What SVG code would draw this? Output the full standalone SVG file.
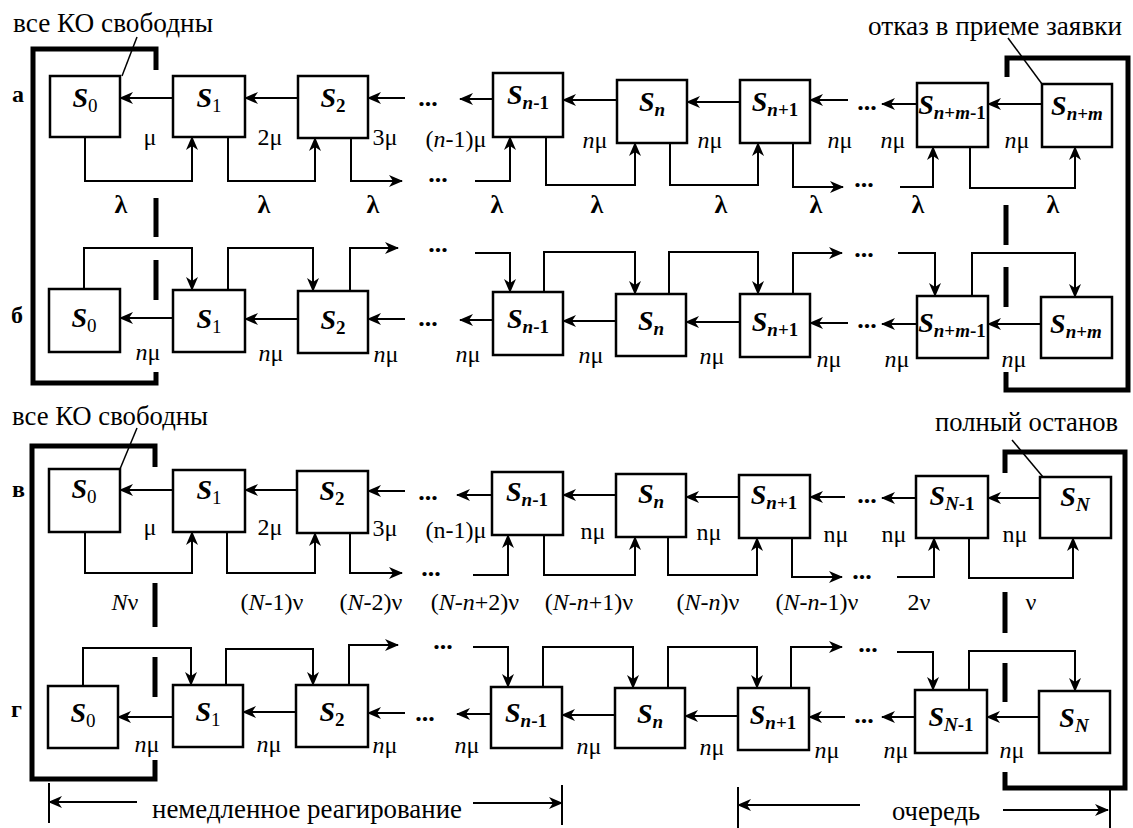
<svg xmlns="http://www.w3.org/2000/svg" width="1133" height="828" viewBox="0 0 1133 828">
<style>
.box{fill:#fff;stroke:#000;stroke-width:2.5}
.c{fill:none;stroke:#000;stroke-width:2}
.a{fill:none;stroke:#000;stroke-width:2;marker-end:url(#ah)}
.br{fill:none;stroke:#000;stroke-width:5}
.ld{fill:none;stroke:#000;stroke-width:1.5}
.s{font-size:28px;font-weight:bold;font-style:italic;text-anchor:middle}
.sub{font-size:19px;font-style:normal}
.it{font-style:italic}
.l{font-size:24px;text-anchor:middle}
.lb{font-size:26px;font-weight:bold;text-anchor:middle}
.d{font-size:26px;font-weight:bold;text-anchor:middle}
.t{font-size:28px}
.rl{font-size:24px;font-weight:bold}
</style>
<defs>
<marker id="ah" viewBox="0 0 14 12" markerWidth="14" markerHeight="12" refX="13" refY="6" orient="auto" markerUnits="userSpaceOnUse">
<path d="M0,0 L14,6 L0,12 L4,6 Z" fill="#000"/>
</marker>
</defs>
<rect width="1133" height="828" fill="#fff"/>

<g id="brackets">
<path class="br" d="M156,70 V49 H33 V383 H156 V372 M156,198 V237 M156,260 V300"/>
<path class="br" d="M1007,77 V58 H1128 V390 H1006 V372 M1006,205 V245 M1006,267 V307"/>
<path class="br" d="M155,467 V446 H32 V779 H155 V760 M155,583 V627 M155,657 V697"/>
<path class="br" d="M1005,473 V452 H1125 V788 H1005 V772 M1005,592 V633 M1005,663 V702"/>
</g>

<g id="connectors">
<path class="a" d="M173,98 H120"/>
<path class="a" d="M298,98 H245"/>
<path class="a" d="M405,98 H368"/>
<path class="a" d="M493,99 H460"/>
<path class="a" d="M617,100 H563"/>
<path class="a" d="M740,102 H687"/>
<path class="a" d="M848,100 H810"/>
<path class="a" d="M917,104 H882"/>
<path class="a" d="M1042,104 H988"/>
<path class="a" d="M85,137 V181 H192 V137"/>
<path class="a" d="M228,137 V181 H315 V138"/>
<path class="a" d="M351,138 V181 H402"/>
<path class="a" d="M475,181 H510 V137"/>
<path class="a" d="M546,137 V185 H635 V143"/>
<path class="a" d="M670,143 V185 H758 V143"/>
<path class="a" d="M793,143 V187 H843"/>
<path class="a" d="M900,187 H933 V147"/>
<path class="a" d="M970,147 V188 H1075 V147"/>
<path class="a" d="M173,318 H120"/>
<path class="a" d="M298,319 H245"/>
<path class="a" d="M405,319 H368"/>
<path class="a" d="M493,320 H460"/>
<path class="a" d="M616,321 H563"/>
<path class="a" d="M740,322 H686"/>
<path class="a" d="M848,323 H810"/>
<path class="a" d="M917,324 H882"/>
<path class="a" d="M1041,324 H988"/>
<path class="a" d="M84,289 V248 H192 V290"/>
<path class="a" d="M228,290 V248 H313 V291"/>
<path class="a" d="M350,291 V248 H398"/>
<path class="a" d="M475,253 H510 V292"/>
<path class="a" d="M544,292 V252 H635 V294"/>
<path class="a" d="M669,294 V252 H758 V294"/>
<path class="a" d="M793,294 V253 H842"/>
<path class="a" d="M898,253 H935 V296"/>
<path class="a" d="M972,296 V253 H1075 V297"/>
<path class="a" d="M173,490 H120"/>
<path class="a" d="M297,490 H245"/>
<path class="a" d="M405,491 H368"/>
<path class="a" d="M492,495 H457"/>
<path class="a" d="M616,495 H563"/>
<path class="a" d="M739,497 H686"/>
<path class="a" d="M845,497 H810"/>
<path class="a" d="M916,498 H882"/>
<path class="a" d="M1040,498 H988"/>
<path class="a" d="M85,532 V573 H192 V532"/>
<path class="a" d="M227,532 V573 H315 V533"/>
<path class="a" d="M350,533 V573 H402"/>
<path class="a" d="M473,575 H508 V535"/>
<path class="a" d="M544,535 V575 H635 V537"/>
<path class="a" d="M668,537 V575 H757 V538"/>
<path class="a" d="M792,538 V577 H842"/>
<path class="a" d="M897,577 H934 V538"/>
<path class="a" d="M969,538 V578 H1073 V538"/>
<path class="a" d="M173,717 H118"/>
<path class="a" d="M296,712 H243"/>
<path class="a" d="M405,713 H368"/>
<path class="a" d="M491,714 H457"/>
<path class="a" d="M615,715 H562"/>
<path class="a" d="M738,716 H685"/>
<path class="a" d="M845,717 H809"/>
<path class="a" d="M915,717 H882"/>
<path class="a" d="M1039,717 H987"/>
<path class="a" d="M83,686 V648 H191 V685"/>
<path class="a" d="M226,685 V649 H313 V685"/>
<path class="a" d="M349,685 V645 H398"/>
<path class="a" d="M473,647 H508 V687"/>
<path class="a" d="M543,687 V647 H633 V688"/>
<path class="a" d="M668,688 V647 H757 V688"/>
<path class="a" d="M791,688 V647 H842"/>
<path class="a" d="M897,652 H933 V690"/>
<path class="a" d="M969,690 V651 H1075 V691"/>
<path class="c" d="M49,783 V823 M562,785 V825 M738,787 V828 M1110,790 V828"/>
<path class="a" d="M137,802 H49"/>
<path class="a" d="M473,803 H562"/>
<path class="a" d="M860,805 H738"/>
<path class="a" d="M1003,810 H1108"/>
<path class="ld" d="M137,37 L122,76"/>
<path class="ld" d="M1008,38 L1042,84"/>
<path class="ld" d="M137,428 L120,469"/>
<path class="ld" d="M1012,440 L1043,477"/>
</g>

<g id="a-S0"><rect class="box" x="50" y="76" width="70" height="61"/><text font-family="Liberation Serif" class="s" x="85" y="107">S<tspan class="sub" font-weight="normal" dy="5">0</tspan></text></g>
<g id="a-S1"><rect class="box" x="173" y="76" width="72" height="61"/><text font-family="Liberation Serif" class="s" x="209" y="107">S<tspan class="sub" font-weight="normal" dy="5">1</tspan></text></g>
<g id="a-S2"><rect class="box" x="298" y="76" width="70" height="62"/><text font-family="Liberation Serif" class="s" x="333" y="107">S<tspan class="sub" dy="5">2</tspan></text></g>
<g id="a-Sn-1"><rect class="box" x="493" y="73" width="70" height="64"/><text font-family="Liberation Serif" class="s" x="528" y="104">S<tspan class="sub it" dy="5">n</tspan><tspan class="sub">-1</tspan></text></g>
<g id="a-Sn"><rect class="box" x="617" y="80" width="70" height="63"/><text font-family="Liberation Serif" class="s" x="652" y="111">S<tspan class="sub it" dy="5">n</tspan></text></g>
<g id="a-Sn+1"><rect class="box" x="740" y="80" width="70" height="63"/><text font-family="Liberation Serif" class="s" x="775" y="111">S<tspan class="sub it" dy="5">n</tspan><tspan class="sub">+1</tspan></text></g>
<g id="a-Sn+m-1"><rect class="box" x="917" y="83" width="71" height="64"/><text font-family="Liberation Serif" class="s" x="952" y="114">S<tspan class="sub it" dy="5">n</tspan><tspan class="sub">+</tspan><tspan class="sub it">m</tspan><tspan class="sub">-1</tspan></text></g>
<g id="a-Sn+m"><rect class="box" x="1042" y="84" width="70" height="63"/><text font-family="Liberation Serif" class="s" x="1077" y="115">S<tspan class="sub it" dy="5">n</tspan><tspan class="sub">+</tspan><tspan class="sub it">m</tspan></text></g>

<g id="b-S0"><rect class="box" x="49" y="289" width="71" height="63"/><text font-family="Liberation Serif" class="s" x="84" y="327">S<tspan class="sub" font-weight="normal" dy="5">0</tspan></text></g>
<g id="b-S1"><rect class="box" x="173" y="290" width="72" height="62"/><text font-family="Liberation Serif" class="s" x="209" y="328">S<tspan class="sub" font-weight="normal" dy="5">1</tspan></text></g>
<g id="b-S2"><rect class="box" x="298" y="291" width="70" height="62"/><text font-family="Liberation Serif" class="s" x="333" y="329">S<tspan class="sub" dy="5">2</tspan></text></g>
<g id="b-Sn-1"><rect class="box" x="493" y="292" width="70" height="63"/><text font-family="Liberation Serif" class="s" x="528" y="328">S<tspan class="sub it" dy="5">n</tspan><tspan class="sub">-1</tspan></text></g>
<g id="b-Sn"><rect class="box" x="616" y="294" width="70" height="62"/><text font-family="Liberation Serif" class="s" x="651" y="330">S<tspan class="sub it" dy="5">n</tspan></text></g>
<g id="b-Sn+1"><rect class="box" x="740" y="294" width="70" height="63"/><text font-family="Liberation Serif" class="s" x="775" y="331">S<tspan class="sub it" dy="5">n</tspan><tspan class="sub">+1</tspan></text></g>
<g id="b-Sn+m-1"><rect class="box" x="917" y="296" width="71" height="62"/><text font-family="Liberation Serif" class="s" x="952" y="332">S<tspan class="sub it" dy="5">n</tspan><tspan class="sub">+</tspan><tspan class="sub it">m</tspan><tspan class="sub">-1</tspan></text></g>
<g id="b-Sn+m"><rect class="box" x="1041" y="297" width="71" height="61"/><text font-family="Liberation Serif" class="s" x="1076" y="333">S<tspan class="sub it" dy="5">n</tspan><tspan class="sub">+</tspan><tspan class="sub it">m</tspan></text></g>

<g id="v-S0"><rect class="box" x="49" y="469" width="71" height="63"/><text font-family="Liberation Serif" class="s" x="84" y="498">S<tspan class="sub" font-weight="normal" dy="5">0</tspan></text></g>
<g id="v-S1"><rect class="box" x="173" y="470" width="72" height="62"/><text font-family="Liberation Serif" class="s" x="209" y="499">S<tspan class="sub" font-weight="normal" dy="5">1</tspan></text></g>
<g id="v-S2"><rect class="box" x="297" y="471" width="71" height="62"/><text font-family="Liberation Serif" class="s" x="332" y="500">S<tspan class="sub" dy="5">2</tspan></text></g>
<g id="v-Sn-1"><rect class="box" x="492" y="472" width="71" height="63"/><text font-family="Liberation Serif" class="s" x="527" y="501">S<tspan class="sub it" dy="5">n</tspan><tspan class="sub">-1</tspan></text></g>
<g id="v-Sn"><rect class="box" x="616" y="474" width="70" height="63"/><text font-family="Liberation Serif" class="s" x="651" y="503">S<tspan class="sub it" dy="5">n</tspan></text></g>
<g id="v-Sn+1"><rect class="box" x="739" y="475" width="71" height="63"/><text font-family="Liberation Serif" class="s" x="774" y="504">S<tspan class="sub it" dy="5">n</tspan><tspan class="sub">+1</tspan></text></g>
<g id="v-SN-1"><rect class="box" x="916" y="476" width="72" height="62"/><text font-family="Liberation Serif" class="s" x="952" y="505">S<tspan class="sub it" dy="5">N</tspan><tspan class="sub">-1</tspan></text></g>
<g id="v-SN"><rect class="box" x="1040" y="477" width="71" height="61"/><text font-family="Liberation Serif" class="s" x="1075" y="506">S<tspan class="sub it" dy="5">N</tspan></text></g>

<g id="g-S0"><rect class="box" x="48" y="686" width="70" height="62"/><text font-family="Liberation Serif" class="s" x="83" y="722">S<tspan class="sub" font-weight="normal" dy="5">0</tspan></text></g>
<g id="g-S1"><rect class="box" x="173" y="685" width="70" height="62"/><text font-family="Liberation Serif" class="s" x="208" y="721">S<tspan class="sub" font-weight="normal" dy="5">1</tspan></text></g>
<g id="g-S2"><rect class="box" x="296" y="685" width="72" height="62"/><text font-family="Liberation Serif" class="s" x="332" y="721">S<tspan class="sub" dy="5">2</tspan></text></g>
<g id="g-Sn-1"><rect class="box" x="491" y="687" width="71" height="61"/><text font-family="Liberation Serif" class="s" x="526" y="722">S<tspan class="sub it" dy="5">n</tspan><tspan class="sub">-1</tspan></text></g>
<g id="g-Sn"><rect class="box" x="615" y="688" width="70" height="60"/><text font-family="Liberation Serif" class="s" x="650" y="723">S<tspan class="sub it" dy="5">n</tspan></text></g>
<g id="g-Sn+1"><rect class="box" x="738" y="688" width="71" height="62"/><text font-family="Liberation Serif" class="s" x="773" y="724">S<tspan class="sub it" dy="5">n</tspan><tspan class="sub">+1</tspan></text></g>
<g id="g-SN-1"><rect class="box" x="915" y="690" width="72" height="63"/><text font-family="Liberation Serif" class="s" x="951" y="726">S<tspan class="sub it" dy="5">N</tspan><tspan class="sub">-1</tspan></text></g>
<g id="g-SN"><rect class="box" x="1039" y="691" width="71" height="62"/><text font-family="Liberation Serif" class="s" x="1074" y="727">S<tspan class="sub it" dy="5">N</tspan></text></g>

<g id="labels">
<text font-family="Liberation Serif" class="d" x="428" y="106">...</text><text font-family="Liberation Serif" class="d" x="867" y="110">...</text>
<text font-family="Liberation Serif" class="d" x="438" y="182">...</text><text font-family="Liberation Serif" class="d" x="864" y="187">...</text>
<text font-family="Liberation Serif" class="d" x="428" y="326">...</text><text font-family="Liberation Serif" class="d" x="867" y="328">...</text>
<text font-family="Liberation Serif" class="d" x="438" y="252">...</text><text font-family="Liberation Serif" class="d" x="864" y="257">...</text>
<text font-family="Liberation Serif" class="d" x="428" y="500">...</text><text font-family="Liberation Serif" class="d" x="867" y="503">...</text>
<text font-family="Liberation Serif" class="d" x="431" y="576">...</text><text font-family="Liberation Serif" class="d" x="862" y="579">...</text>
<text font-family="Liberation Serif" class="d" x="425" y="721">...</text><text font-family="Liberation Serif" class="d" x="864" y="723">...</text>
<text font-family="Liberation Serif" class="d" x="443" y="649">...</text><text font-family="Liberation Serif" class="d" x="868" y="652">...</text>

<text font-family="Liberation Serif" class="l" x="150" y="145">μ</text>
<text font-family="Liberation Serif" class="l" x="270" y="145">2μ</text>
<text font-family="Liberation Serif" class="l" x="385" y="145">3μ</text>
<text font-family="Liberation Serif" class="l" x="456" y="147">(<tspan class="it">n</tspan>-1)μ</text>
<text font-family="Liberation Serif" class="l" x="595" y="148"><tspan class="it">n</tspan>μ</text>
<text font-family="Liberation Serif" class="l" x="710" y="148"><tspan class="it">n</tspan>μ</text>
<text font-family="Liberation Serif" class="l" x="840" y="148"><tspan class="it">n</tspan>μ</text>
<text font-family="Liberation Serif" class="l" x="893" y="148"><tspan class="it">n</tspan>μ</text>
<text font-family="Liberation Serif" class="l" x="1017" y="148"><tspan class="it">n</tspan>μ</text>
<text font-family="Liberation Serif" class="lb" x="121" y="213">λ</text>
<text font-family="Liberation Serif" class="lb" x="264" y="213">λ</text>
<text font-family="Liberation Serif" class="lb" x="373" y="213">λ</text>
<text font-family="Liberation Serif" class="lb" x="497" y="213">λ</text>
<text font-family="Liberation Serif" class="lb" x="597" y="213">λ</text>
<text font-family="Liberation Serif" class="lb" x="721" y="213">λ</text>
<text font-family="Liberation Serif" class="lb" x="816" y="213">λ</text>
<text font-family="Liberation Serif" class="lb" x="918" y="213">λ</text>
<text font-family="Liberation Serif" class="lb" x="1053" y="213">λ</text>

<text font-family="Liberation Serif" class="l" x="148" y="360"><tspan class="it">n</tspan>μ</text>
<text font-family="Liberation Serif" class="l" x="271" y="361"><tspan class="it">n</tspan>μ</text>
<text font-family="Liberation Serif" class="l" x="386" y="362"><tspan class="it">n</tspan>μ</text>
<text font-family="Liberation Serif" class="l" x="468" y="362"><tspan class="it">n</tspan>μ</text>
<text font-family="Liberation Serif" class="l" x="591" y="363"><tspan class="it">n</tspan>μ</text>
<text font-family="Liberation Serif" class="l" x="712" y="364"><tspan class="it">n</tspan>μ</text>
<text font-family="Liberation Serif" class="l" x="829" y="367"><tspan class="it">n</tspan>μ</text>
<text font-family="Liberation Serif" class="l" x="897" y="367"><tspan class="it">n</tspan>μ</text>
<text font-family="Liberation Serif" class="l" x="1014" y="367"><tspan class="it">n</tspan>μ</text>

<text font-family="Liberation Serif" class="l" x="150" y="535">μ</text>
<text font-family="Liberation Serif" class="l" x="270" y="535">2μ</text>
<text font-family="Liberation Serif" class="l" x="385" y="536">3μ</text>
<text font-family="Liberation Serif" class="l" x="456" y="538">(n-1)μ</text>
<text font-family="Liberation Serif" class="l" x="593" y="539">nμ</text>
<text font-family="Liberation Serif" class="l" x="709" y="540">nμ</text>
<text font-family="Liberation Serif" class="l" x="836" y="542">nμ</text>
<text font-family="Liberation Serif" class="l" x="894" y="542">nμ</text>
<text font-family="Liberation Serif" class="l" x="1015" y="542">nμ</text>
<text font-family="Liberation Serif" class="l" x="125" y="610"><tspan class="it">N</tspan>ν</text>
<text font-family="Liberation Serif" class="l" x="272" y="610">(<tspan class="it">N</tspan>-1)ν</text>
<text font-family="Liberation Serif" class="l" x="371" y="610">(<tspan class="it">N</tspan>-2)ν</text>
<text font-family="Liberation Serif" class="l" x="475" y="610">(<tspan class="it">N</tspan>-<tspan class="it">n</tspan>+2)ν</text>
<text font-family="Liberation Serif" class="l" x="589" y="610">(<tspan class="it">N</tspan>-<tspan class="it">n</tspan>+1)ν</text>
<text font-family="Liberation Serif" class="l" x="708" y="610">(<tspan class="it">N</tspan>-<tspan class="it">n</tspan>)ν</text>
<text font-family="Liberation Serif" class="l" x="817" y="610">(<tspan class="it">N</tspan>-<tspan class="it">n</tspan>-1)ν</text>
<text font-family="Liberation Serif" class="l" x="919" y="610">2ν</text>
<text font-family="Liberation Serif" class="l" x="1031" y="610">ν</text>

<text font-family="Liberation Serif" class="l" x="147" y="752"><tspan class="it">n</tspan>μ</text>
<text font-family="Liberation Serif" class="l" x="269" y="752"><tspan class="it">n</tspan>μ</text>
<text font-family="Liberation Serif" class="l" x="385" y="753"><tspan class="it">n</tspan>μ</text>
<text font-family="Liberation Serif" class="l" x="467" y="753"><tspan class="it">n</tspan>μ</text>
<text font-family="Liberation Serif" class="l" x="589" y="754"><tspan class="it">n</tspan>μ</text>
<text font-family="Liberation Serif" class="l" x="712" y="755"><tspan class="it">n</tspan>μ</text>
<text font-family="Liberation Serif" class="l" x="827" y="758"><tspan class="it">n</tspan>μ</text>
<text font-family="Liberation Serif" class="l" x="896" y="758"><tspan class="it">n</tspan>μ</text>
<text font-family="Liberation Serif" class="l" x="1012" y="758"><tspan class="it">n</tspan>μ</text>

<text font-family="Liberation Serif" class="rl" x="12" y="102">а</text>
<text font-family="Liberation Serif" class="rl" x="11" y="323">б</text>
<text font-family="Liberation Serif" class="rl" x="12" y="497">в</text>
<text font-family="Liberation Serif" class="rl" x="11" y="717">г</text>

<text font-family="Liberation Serif" class="t" x="13" y="32" textLength="200" lengthAdjust="spacingAndGlyphs">все КО свободны</text>
<text font-family="Liberation Serif" class="t" x="868" y="35" textLength="254" lengthAdjust="spacingAndGlyphs">отказ в приеме заявки</text>
<text font-family="Liberation Serif" class="t" x="12" y="425" textLength="196" lengthAdjust="spacingAndGlyphs">все КО свободны</text>
<text font-family="Liberation Serif" class="t" x="935" y="431" textLength="183" lengthAdjust="spacingAndGlyphs">полный останов</text>
<text font-family="Liberation Serif" class="t" x="152" y="818" textLength="310" lengthAdjust="spacingAndGlyphs">немедленное реагирование</text>
<text font-family="Liberation Serif" class="t" x="892" y="820" textLength="88" lengthAdjust="spacingAndGlyphs">очередь</text>
</g>
</svg>
